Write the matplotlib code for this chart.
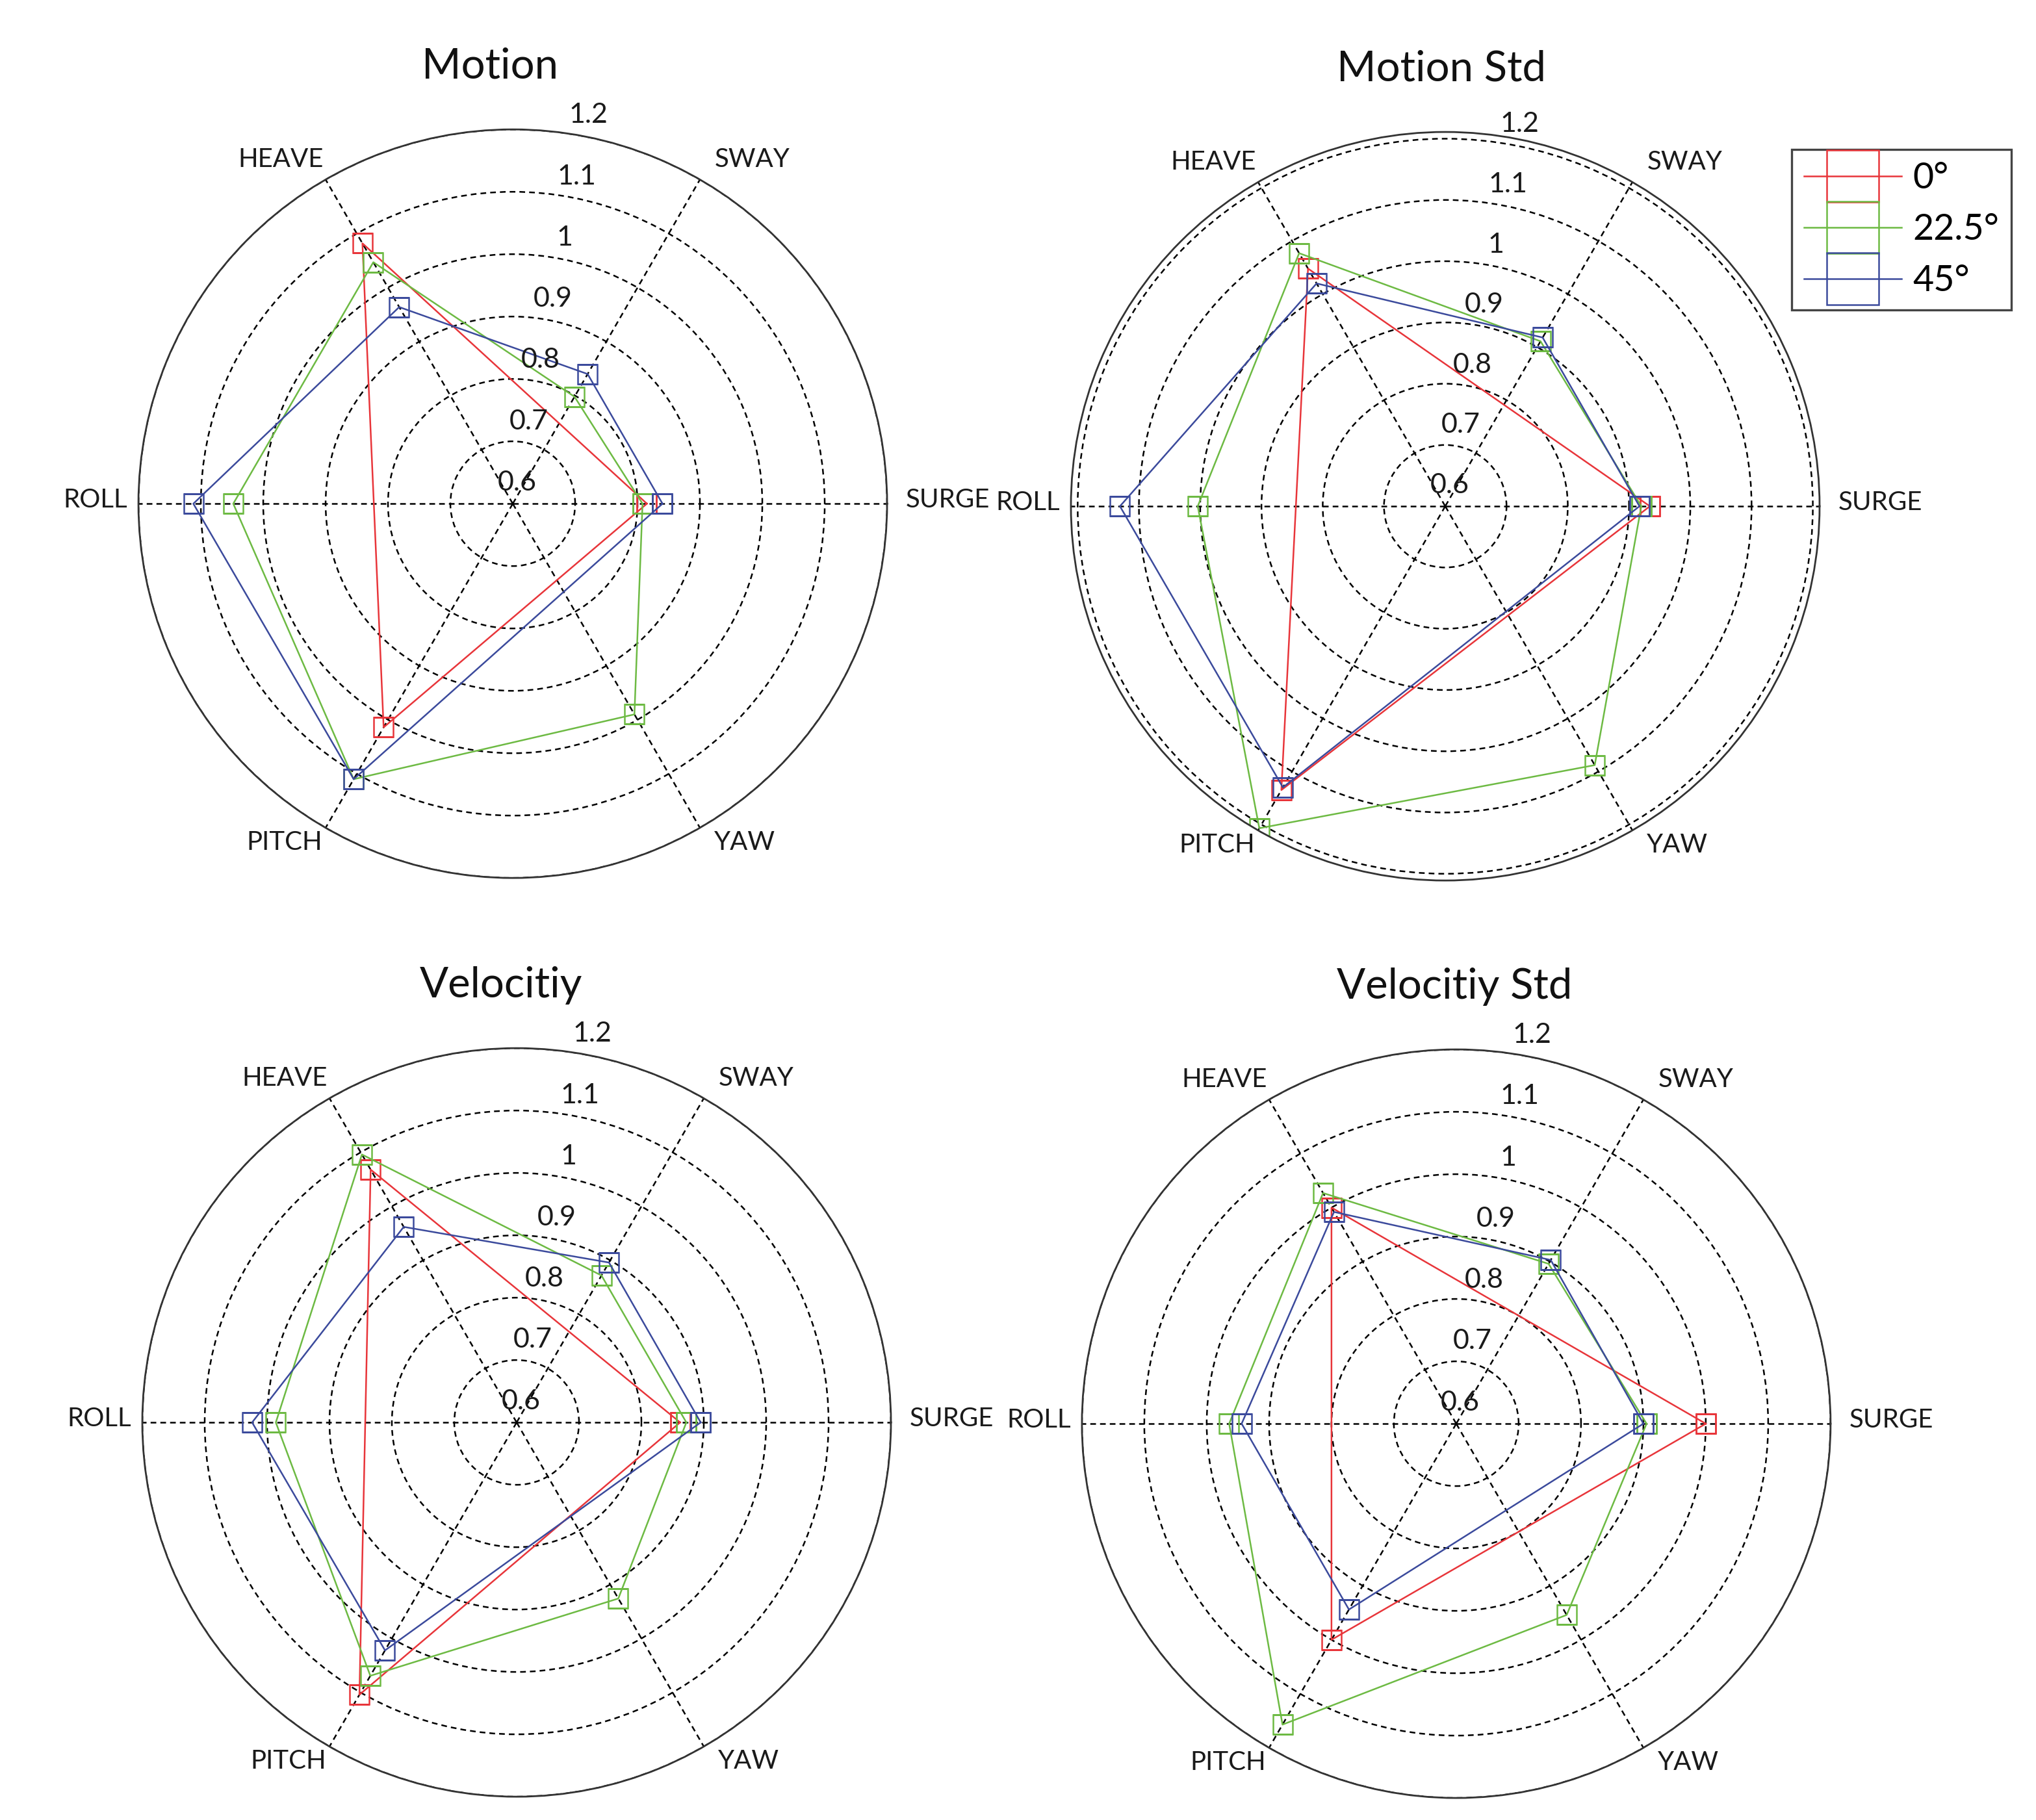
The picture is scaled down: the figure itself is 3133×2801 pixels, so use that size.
import numpy as np
import matplotlib
matplotlib.use('Agg')
import matplotlib.pyplot as plt

plt.rcParams['font.family'] = ['Lato', 'DejaVu Sans']

# osi i kutovi (SURGE desno, pa suprotno od kazaljke)
dof_labels = ['SURGE', 'SWAY', 'HEAVE', 'ROLL', 'PITCH', 'YAW']
dof_angles = [0, 60, 120, 180, 240, 300]
headings = ['0°', '22.5°', '45°']
colors = ['#E8353A', '#6DBA43', '#3B4A9C']
r_ticks = [0.6, 0.7, 0.8, 0.9, 1.0, 1.1, 1.2]
r_tick_labels = ['0.6', '0.7', '0.8', '0.9', '1', '1.1', '1.2']

nan = np.nan
# redoslijed: SURGE, SWAY, HEAVE, ROLL, PITCH, YAW  (nan = nema tocke)
motion_0 = [0.815, nan, 1.082, nan, 1.014, nan]
motion_22 = [0.808, 0.798, 1.047, 1.048, 1.110, 0.990]
motion_45 = [0.840, 0.840, 0.964, 1.112, 1.110, nan]

motion_std_0 = [0.934, nan, 1.048, nan, 1.135, nan]
motion_std_22 = [0.920, 0.911, 1.077, 1.004, 1.207, 1.088]
motion_std_45 = [0.917, 0.918, 1.020, 1.131, 1.130, nan]

vel_0 = [0.862, nan, 1.068, nan, 1.104, nan]
vel_22 = [0.872, 0.872, 1.096, 0.986, 1.069, 0.926]
vel_45 = [0.895, 0.896, 0.962, 1.024, 1.022, nan]

vel_std_0 = [1.000, nan, 1.000, nan, 1.000, nan]
vel_std_22 = [0.905, 0.896, 1.027, 0.964, 1.157, 0.954]
vel_std_45 = [0.900, 0.903, 0.992, 0.944, 0.944, nan]

titles = ['Motion', 'Motion Std', 'Velocitiy', 'Velocitiy Std']
r_max = [1.2, 1.211, 1.2, 1.2]
panels = [
    [motion_0, motion_22, motion_45],
    [motion_std_0, motion_std_22, motion_std_45],
    [vel_0, vel_22, vel_45],
    [vel_std_0, vel_std_22, vel_std_45],
]

# polozaj svakog radara [x0, y0, w, h] u dijelovima slike
positions = [
    [0.0680, 0.5176, 0.3677, 0.4113],
    [0.5260, 0.5162, 0.3677, 0.4113],
    [0.0699, 0.0128, 0.3677, 0.4113],
    [0.5314, 0.0121, 0.3677, 0.4113],
]
title_dx = [-0.030, -0.005, -0.021, -0.002]

# polozaj natpisa osi u jedinicama radijusa
label_xy = {
    'SURGE': (1.05, 0.01, 'left'),
    'SWAY': (0.64, 0.92, 'center'),
    'HEAVE': (-0.62, 0.92, 'center'),
    'ROLL': (-1.03, 0.01, 'right'),
    'PITCH': (-0.61, -0.905, 'center'),
    'YAW': (0.62, -0.905, 'center'),
}


def radar(ax, title, series, rmax, tdx):
    th = np.deg2rad(dof_angles)
    ax.set_ylim(r_ticks[0], rmax)
    ax.set_xticks(th)
    ax.set_xticklabels([])
    ax.set_yticks(r_ticks[1:])
    ax.set_yticklabels([])
    ax.grid(True, color='k', linestyle=(0, (3.5, 2.5)), linewidth=0.9)
    ax.spines['polar'].set_color('#333333')
    ax.spines['polar'].set_linewidth(1.0)

    for vals, c, name in zip(series, colors, headings):
        vals = np.array(vals)
        ok = ~np.isnan(vals)
        t = np.append(th[ok], th[ok][0])
        r = np.append(vals[ok], vals[ok][0])
        ax.plot(t, r, color=c, linewidth=0.9, marker='s', markersize=11,
                markerfacecolor='none', markeredgewidth=0.9, label=name)

    # oznake radijusa pod kutom od ~79 stupnjeva
    off = 0.0344 * (rmax - r_ticks[0]) / 0.6
    for rv, txt in zip(r_ticks, r_tick_labels):
        ax.text(np.deg2rad(79), rv + off, txt, ha='center', va='center',
                fontsize=15.5, color='#1a1a1a')

    for name in dof_labels:
        x, y, ha = label_xy[name]
        ax.text(0.5 + 0.5 * x, 0.5 + 0.5 * y, name, transform=ax.transAxes,
                ha=ha, va='center', fontsize=14.5, color='#1a1a1a')

    ax.text(0.5 + tdx, 1.068, title, transform=ax.transAxes, ha='center',
            va='baseline', fontsize=23.5, color='#111111')


fig = plt.figure(figsize=(3133 / 200, 2801 / 200), dpi=200)
axs = []
for i in range(4):
    ax = fig.add_axes(positions[i], projection='polar')
    radar(ax, titles[i], panels[i], r_max[i], title_dx[i])
    axs.append(ax)

handles, labels = axs[0].get_legend_handles_labels()
leg = fig.legend(handles, labels, loc='upper left', bbox_to_anchor=(0.880, 0.9179),
                 fontsize=20, markerscale=2.6, handlelength=2.7, handletextpad=0.3,
                 labelspacing=0.5, borderpad=0.35, borderaxespad=0.0,
                 fancybox=False, framealpha=1.0, edgecolor='#444444')
leg.get_frame().set_linewidth(1.2)

fig.savefig('out.png', dpi=200, facecolor='white')
